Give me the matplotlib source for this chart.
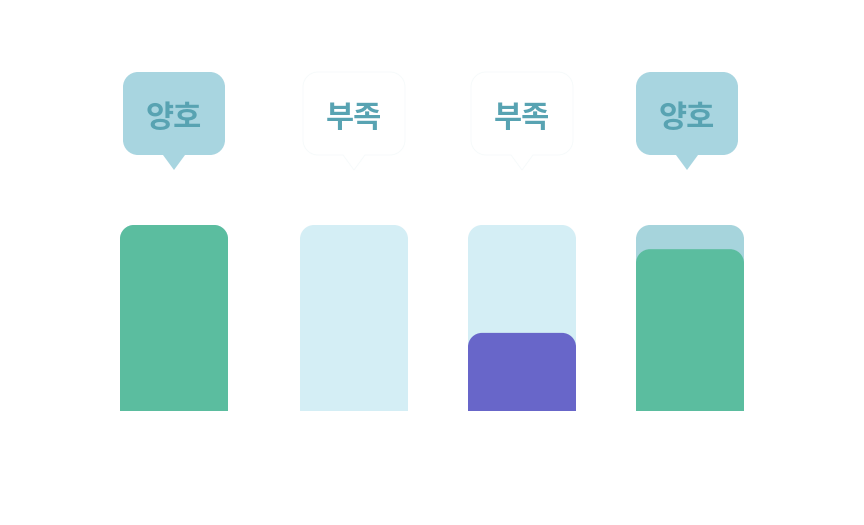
import matplotlib
matplotlib.use("Agg")
import matplotlib.pyplot as plt
from matplotlib.path import Path
from matplotlib.patches import PathPatch

plt.rcParams['font.family'] = ['Noto Sans CJK KR', 'DejaVu Sans']

# ---- data ----
labels = ["양호", "부족", "부족", "양호"]
values = [100, 0, 42, 87]          # foreground bar value (% of track)
track = [100, 100, 100, 100]       # background track value
status_good = [True, False, False, True]

# ---- layout / style ----
W, H = 864, 525
bar_centers = [174, 354, 522, 690]
bubble_centers = [174, 354, 522, 687]
bar_w = 108
px_per_unit = 1.86                 # 186 px for 100
base_px = 411                      # baseline pixel row (from top)
radius_px = 14

col_good = "#5bbd9f"
col_bad = "#6866c9"
track_light = "#d4eef5"
track_good = "#a6d4dc"
bubble_fill = "#a8d5e0"
text_col = "#58a3b2"

fig = plt.figure(figsize=(W / 100, H / 100), dpi=100)
ax = fig.add_axes([0, 0, 1, 1])
ax.set_xlim(0, W)
ax.set_ylim(-(H - base_px) / px_per_unit, base_px / px_per_unit)
ax.axis("off")

K = 0.5523


def rounded_top_bar(xc, h, color, z):
    if h <= 0:
        return
    rx = radius_px
    ry = radius_px / px_per_unit
    ry = min(ry, h)
    x0, x1 = xc - bar_w / 2, xc + bar_w / 2
    verts = [(x0, 0), (x0, h - ry),
             (x0, h - ry + K * ry), (x0 + rx - K * rx, h), (x0 + rx, h),
             (x1 - rx, h),
             (x1 - rx + K * rx, h), (x1, h - ry + K * ry), (x1, h - ry),
             (x1, 0), (x0, 0)]
    codes = [Path.MOVETO, Path.LINETO,
             Path.CURVE4, Path.CURVE4, Path.CURVE4,
             Path.LINETO,
             Path.CURVE4, Path.CURVE4, Path.CURVE4,
             Path.LINETO, Path.CLOSEPOLY]
    ax.add_patch(PathPatch(Path(verts, codes), facecolor=color,
                           edgecolor="none", zorder=z))


def y_of(px):
    return (base_px - px) / px_per_unit


def bubble(xc, fill, edge):
    bw = 102
    top, bot, tip = y_of(72), y_of(155), y_of(170)
    tip_half = 11
    rx = 15
    ry = 15 / px_per_unit
    x0, x1 = xc - bw / 2, xc + bw / 2
    verts = [
        (x0 + rx, top), (x1 - rx, top),
        (x1 - rx + K * rx, top), (x1, top - ry + K * ry), (x1, top - ry),
        (x1, bot + ry),
        (x1, bot + ry - K * ry), (x1 - rx + K * rx, bot), (x1 - rx, bot),
        (xc + tip_half, bot), (xc, tip), (xc - tip_half, bot),
        (x0 + rx, bot),
        (x0 + rx - K * rx, bot), (x0, bot + ry - K * ry), (x0, bot + ry),
        (x0, top - ry),
        (x0, top - ry + K * ry), (x0 + rx - K * rx, top), (x0 + rx, top),
        (x0 + rx, top),
    ]
    codes = [Path.MOVETO, Path.LINETO,
             Path.CURVE4, Path.CURVE4, Path.CURVE4,
             Path.LINETO,
             Path.CURVE4, Path.CURVE4, Path.CURVE4,
             Path.LINETO, Path.LINETO, Path.LINETO,
             Path.LINETO,
             Path.CURVE4, Path.CURVE4, Path.CURVE4,
             Path.LINETO,
             Path.CURVE4, Path.CURVE4, Path.CURVE4,
             Path.CLOSEPOLY]
    ax.add_patch(PathPatch(Path(verts, codes), facecolor=fill,
                           edgecolor=edge, linewidth=0.5, zorder=3))


for i, (lab, v, t, good) in enumerate(zip(labels, values, track, status_good)):
    xc = bar_centers[i]
    rounded_top_bar(xc, t, track_good if good else track_light, 1)
    rounded_top_bar(xc, v, col_good if good else col_bad, 2)
    bx = bubble_centers[i]
    if good:
        bubble(bx, bubble_fill, "none")
    else:
        bubble(bx, "white", "#f4f9fa")
    ax.text(bx, y_of(118), lab, ha="center", va="center", fontsize=22,
            fontweight="bold", color=text_col, zorder=4)

fig.savefig("out.png", dpi=100)
